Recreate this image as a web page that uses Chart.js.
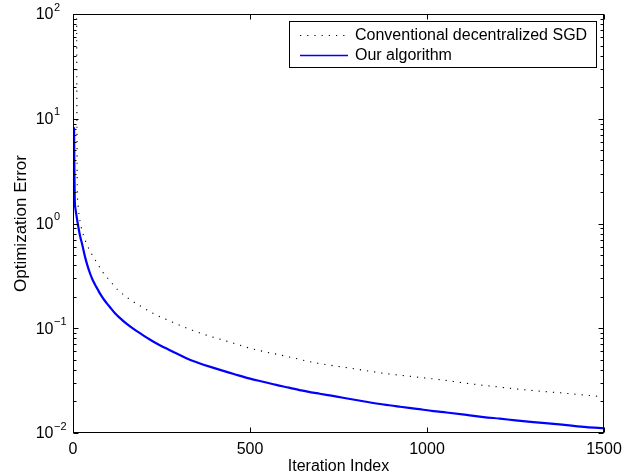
<!DOCTYPE html>
<html><head><meta charset="utf-8">
<script src="https://cdn.jsdelivr.net/npm/chart.js@4.4.1/dist/chart.umd.min.js"></script>
<style>html,body{margin:0;padding:0;background:#fff;overflow:hidden}#wrap{width:641px;height:476px;position:relative}</style>
</head><body><div id="wrap"><canvas id="c"></canvas></div>
<script>
// ---- data ----
const xTickValues = [0, 500, 1000, 1500];
const yTickExponents = [-2, -1, 0, 1, 2];
const seriesLabels = ['Conventional decentralized SGD', 'Our algorithm'];
const xTitle = 'Iteration Index';
const yTitle = 'Optimization Error';

const sgdIter  = [10, 11, 12, 14, 17, 23, 36, 53, 68, 85, 100, 127, 160, 193, 231, 282, 325, 386, 443, 500, 604, 688, 783, 877, 971, 1046, 1112, 1206, 1300, 1394, 1500];
const sgdError = [200, 12, 2.3, 1.55, 1.22, 0.93, 0.67, 0.51, 0.42, 0.34, 0.295, 0.232, 0.189, 0.161, 0.136, 0.114, 0.099, 0.084, 0.0738, 0.0645, 0.0538, 0.0466, 0.0416, 0.0372, 0.0342, 0.0320, 0.0298, 0.0274, 0.0254, 0.0239, 0.0221];

const oursIter  = [3, 4, 5, 7, 10, 15, 20, 26, 34, 40, 48, 55, 62, 70, 76, 85, 95, 105, 118, 133, 151, 170, 193, 212, 235, 258, 282, 303, 325, 355, 386, 420, 452, 500, 540, 574, 610, 640, 697, 730, 763, 820, 877, 924, 971, 1018, 1055, 1112, 1160, 1206, 1250, 1300, 1350, 1394, 1450, 1500];
const oursError = [8.3, 3.0, 1.7, 1.38, 1.18, 0.93, 0.76, 0.63, 0.48, 0.405, 0.335, 0.292, 0.262, 0.234, 0.215, 0.193, 0.174, 0.158, 0.140, 0.125, 0.1105, 0.0990, 0.0880, 0.0800, 0.0718, 0.0655, 0.0598, 0.0552, 0.0508, 0.0466, 0.0430, 0.0396, 0.0368, 0.0330, 0.0307, 0.0288, 0.0271, 0.0257, 0.0237, 0.0227, 0.0217, 0.0201, 0.0187, 0.0178, 0.0170, 0.0162, 0.0157, 0.0149, 0.0142, 0.0137, 0.0132, 0.0127, 0.0123, 0.0119, 0.0114, 0.0111];

const FONT = '"Liberation Sans", Arial, Helvetica, sans-serif';

function pts(xs, ys) { return xs.map((x, i) => ({x: x, y: ys[i]})); }

const frame = {
  id: 'frame',
  afterDraw(chart) {
    const ctx = chart.ctx, a = chart.chartArea;
    const xs = chart.scales.x, ys = chart.scales.y;
    const L = Math.round(a.left) + 0.5, R = Math.round(a.right) - 0.5;
    const T = Math.round(a.top) + 0.5, B = Math.round(a.bottom) - 0.5;
    ctx.save();
    ctx.strokeStyle = '#000';
    ctx.lineWidth = 1;
    ctx.strokeRect(L, T, R - L, B - T);
    ctx.beginPath();
    xTickValues.forEach(v => {
      const px = Math.round(xs.getPixelForValue(v)) + 0.5;
      ctx.moveTo(px, B); ctx.lineTo(px, B - 5);
      ctx.moveTo(px, T); ctx.lineTo(px, T + 5);
    });
    yTickExponents.forEach(e => {
      const py = Math.round(ys.getPixelForValue(Math.pow(10, e))) + 0.5;
      ctx.moveTo(L, py); ctx.lineTo(L + 5, py);
      ctx.moveTo(R, py); ctx.lineTo(R - 5, py);
      if (e < yTickExponents[yTickExponents.length - 1]) {
        for (let m = 2; m <= 9; m++) {
          const pm = Math.round(ys.getPixelForValue(m * Math.pow(10, e))) + 0.5;
          ctx.moveTo(L, pm); ctx.lineTo(L + 3, pm);
          ctx.moveTo(R, pm); ctx.lineTo(R - 3, pm);
        }
      }
    });
    ctx.stroke();
    ctx.fillStyle = '#000';
    yTickExponents.forEach(e => {
      const py = ys.getPixelForValue(Math.pow(10, e));
      ctx.font = '16px ' + FONT;
      ctx.textAlign = 'right';
      ctx.textBaseline = 'middle';
      ctx.fillText('10', 53.5, py + 1);
      ctx.font = '11px ' + FONT;
      ctx.textAlign = 'left';
      ctx.fillText(e < 0 ? '\u2212' + (-e) : String(e), 54, py - 6.5);
    });
    const bx = 289.5, by = 21.5, bw = 307, bh = 46;
    ctx.fillStyle = '#fff';
    ctx.fillRect(bx, by, bw, bh);
    ctx.strokeStyle = '#000';
    ctx.lineWidth = 1;
    ctx.strokeRect(bx, by, bw, bh);
    chart.data.datasets.forEach((ds, i) => {
      const y = 35.5 + i * 20;
      ctx.save();
      ctx.strokeStyle = ds.borderColor;
      ctx.lineWidth = ds.legendWidth;
      ctx.setLineDash(ds.borderDash || []);
      ctx.beginPath();
      ctx.moveTo(300, y); ctx.lineTo(348, y);
      ctx.stroke();
      ctx.restore();
      ctx.fillStyle = '#000';
      ctx.font = '16px ' + FONT;
      ctx.textAlign = 'left';
      ctx.textBaseline = 'middle';
      ctx.fillText(ds.label, 355, y + 0.5);
    });
    ctx.restore();
  }
};

new Chart(document.getElementById('c'), {
  type: 'line',
  data: {
    datasets: [
      { label: seriesLabels[0], data: pts(sgdIter, sgdError), borderColor: '#000', borderWidth: 1.1, legendWidth: 1.1,
        borderDash: [1.2, 6], pointRadius: 0, cubicInterpolationMode: 'monotone', fill: false },
      { label: seriesLabels[1], data: pts(oursIter, oursError), borderColor: '#0000ff', borderWidth: 2.2, legendWidth: 1.4,
        pointRadius: 0, cubicInterpolationMode: 'monotone', fill: false }
    ]
  },
  options: {
    responsive: true,
    maintainAspectRatio: false,
    animation: false,
    layout: { padding: { top: 14, right: 37, bottom: 0, left: 0 } },
    plugins: { legend: { display: false }, tooltip: { enabled: false } },
    scales: {
      x: {
        type: 'linear', position: 'bottom', min: 0, max: 1500,
        grid: { display: false }, border: { display: false },
        afterBuildTicks: s => { s.ticks = xTickValues.map(v => ({ value: v })); },
        ticks: { color: '#000', font: { family: FONT, size: 16 }, padding: -1, maxRotation: 0, autoSkip: false,
                 callback: v => String(v) },
        title: { display: true, text: xTitle, color: '#000', font: { family: FONT, size: 16 }, padding: { top: 0, bottom: 0 } },
        afterFit: s => { s.height = 43; }
      },
      y: {
        type: 'logarithmic', position: 'left', min: 0.01, max: 100,
        grid: { display: false }, border: { display: false },
        ticks: { display: false },
        title: { display: true, text: yTitle, color: '#000', font: { family: FONT, size: 17 }, padding: { top: 11, bottom: 0 } },
        afterFit: s => { s.width = 73; }
      }
    }
  },
  plugins: [frame]
});
</script>
</body></html>
